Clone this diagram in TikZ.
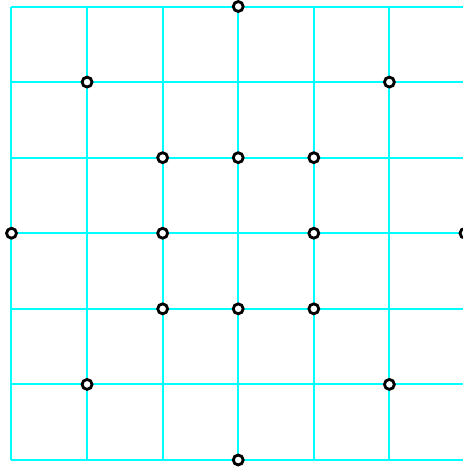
\documentclass[tikz,border=0pt]{standalone}
\definecolor{latticecyan}{RGB}{0,255,255}
\begin{document}
\begin{tikzpicture}[x=1.6cm,y=1.6cm,
  gridline/.style={latticecyan,line width=1.2pt},
  vertex/.style={circle,draw=black,fill=white,line width=1.7pt,inner sep=0pt,minimum size=0.21cm}]
\useasboundingbox (-0.152,-0.106) rectangle (5.972,6.086);
\clip (-0.152,-0.106) rectangle (5.972,6.086);

% the lattice
\draw[gridline] (0,0) grid[step={(1,1)}] (6,6);

% marked points
\foreach \i/\x/\y in {1/3/6,2/1/5,3/5/5,4/2/4,5/3/4,6/4/4,7/0/3,8/2/3,
                      9/4/3,10/6/3,11/2/2,12/3/2,13/4/2,14/1/1,15/5/1,16/3/0}
  \node[vertex] (p\i) at (\x,\y) {};
\end{tikzpicture}
\end{document}
